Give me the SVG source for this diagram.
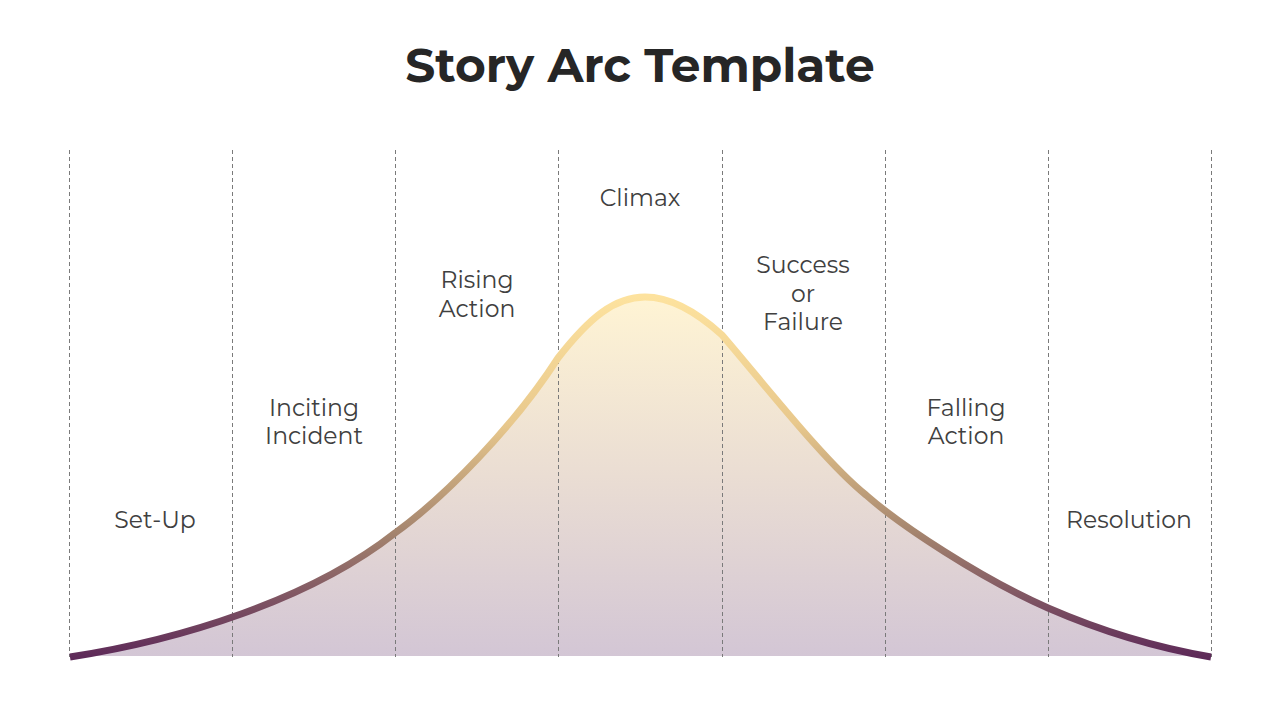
<svg xmlns="http://www.w3.org/2000/svg" width="1280" height="720" viewBox="0 0 1280 720">
<defs>
<linearGradient id="strokeG" gradientUnits="userSpaceOnUse" x1="0" y1="297" x2="0" y2="660">
<stop offset="0" stop-color="#FDE29E"/>
<stop offset="0.35" stop-color="#E8C88C"/>
<stop offset="0.65" stop-color="#A4846E"/>
<stop offset="1" stop-color="#5C2858"/>
</linearGradient>
<linearGradient id="fillG" gradientUnits="userSpaceOnUse" x1="0" y1="297" x2="0" y2="656">
<stop offset="0" stop-color="#FFF4D4"/>
<stop offset="0.5" stop-color="#EADDD3"/>
<stop offset="1" stop-color="#D3C6D5"/>
</linearGradient>
<style>
.grid{stroke:#7a7a7a;stroke-width:1;stroke-dasharray:4 3;fill:none}
.lbl{font-family:Montserrat,"Noto Sans","Liberation Sans",sans-serif;font-size:23.5px;fill:#404040;text-anchor:middle}
.title{font-family:Montserrat,"Noto Sans","Liberation Sans",sans-serif;font-size:47px;font-weight:bold;fill:#262626;text-anchor:middle}
</style>
</defs>
<rect width="1280" height="720" fill="#ffffff"/>
<text class="title" x="640" y="82">Story Arc Template</text>
<g id="area">
<path fill="url(#fillG)" d="M70,657 C180,640 310,600 395,533 C445,497 515,425 558,358 C590,317 615,297 645,297 C672,297 700,315 722,335 C765,385 825,462 866,495 C900,525 980,578 1048,608 C1110,635 1170,650 1211,656 L70,656 Z"/>
</g>
<g id="gridlines">
<line class="grid" x1="69.5" y1="150" x2="69.5" y2="657"/>
<line class="grid" x1="232.5" y1="150" x2="232.5" y2="657"/>
<line class="grid" x1="395.5" y1="150" x2="395.5" y2="657"/>
<line class="grid" x1="558.5" y1="150" x2="558.5" y2="657"/>
<line class="grid" x1="722.5" y1="150" x2="722.5" y2="657"/>
<line class="grid" x1="885.5" y1="150" x2="885.5" y2="657"/>
<line class="grid" x1="1048.5" y1="150" x2="1048.5" y2="657"/>
<line class="grid" x1="1211.5" y1="150" x2="1211.5" y2="657"/>
</g>
<g id="curve">
<path fill="none" stroke="url(#strokeG)" stroke-width="7" d="M70,657 C180,640 310,600 395,533 C445,497 515,425 558,358 C590,317 615,297 645,297 C672,297 700,315 722,335 C765,385 825,462 866,495 C900,525 980,578 1048,608 C1110,635 1170,650 1211,657"/>
</g>
<g id="setup"><text class="lbl" x="155" y="528">Set-Up</text></g>
<g id="inciting"><text class="lbl" x="314" y="416">Inciting</text><text class="lbl" x="314" y="444">Incident</text></g>
<g id="rising"><text class="lbl" x="477" y="288">Rising</text><text class="lbl" x="477" y="317">Action</text></g>
<g id="climax"><text class="lbl" x="640" y="206">Climax</text></g>
<g id="success"><text class="lbl" x="803" y="273">Success</text><text class="lbl" x="803" y="302">or</text><text class="lbl" x="803" y="330">Failure</text></g>
<g id="falling"><text class="lbl" x="966" y="416">Falling</text><text class="lbl" x="966" y="444">Action</text></g>
<g id="resolution"><text class="lbl" x="1129" y="528">Resolution</text></g>
</svg>
